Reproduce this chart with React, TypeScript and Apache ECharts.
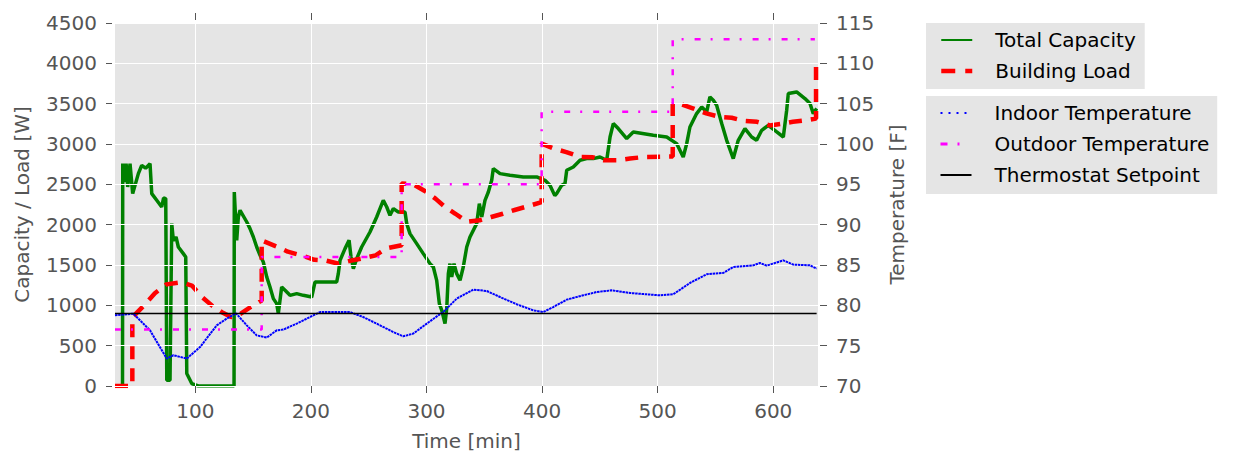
import React, { useEffect, useRef } from "react";
import * as echarts from "echarts";

// ---- Data (time in minutes) ----
const xTicks = [100, 200, 300, 400, 500, 600];

const totalCapacity: [number, number][] = [
  [30.5, 0], [37, 0], [37.2, 2757], [38.3, 2529], [40.1, 2757], [41.5, 2467], [43.5, 2757], [45.8, 2385],
  [50.7, 2633], [53.6, 2736], [57, 2700], [60.8, 2757], [62.3, 2385], [66.6, 2302], [70.9, 2219], [72.5, 2330],
  [74.4, 2323], [75.3, 70], [78.1, 70], [79.6, 2013], [81, 1806], [83.3, 1847], [85.3, 1723], [89.6, 1641],
  [91.7, 1599], [92.6, 154], [96.9, 30], [102.6, 0], [133.5, 0], [133.7, 2405], [135.8, 1806], [137.2, 2095],
  [138.7, 2178], [144.5, 2033], [147.3, 1951], [150.2, 1847], [153.1, 1723], [156, 1620], [158.8, 1537],
  [161.8, 1351], [164.6, 1227], [167.5, 1083], [170.4, 1021], [171.8, 897], [174.7, 1227], [177.6, 1186],
  [181.9, 1124], [187.7, 1145], [193.4, 1124], [200.7, 1103], [203.5, 1289], [210.7, 1289], [222.3, 1289],
  [223.7, 1393], [225.2, 1558], [229.5, 1703], [233, 1806], [234.7, 1599], [236.7, 1455], [239.6, 1579],
  [243.9, 1723], [251.1, 1909], [256.9, 2095], [262.6, 2302], [265.6, 2219], [268.4, 2116], [271.3, 2199],
  [275.6, 2157], [281.4, 2157], [282.9, 2013], [285.7, 1889], [291.5, 1765], [297.2, 1641], [303, 1517],
  [305.9, 1475], [308.8, 1310], [311.1, 1021], [313.2, 938], [316, 773], [317.5, 959], [318.9, 1393],
  [320.3, 1517], [321.8, 1351], [323.8, 1517], [326.1, 1393], [329, 1310], [331.8, 1475], [334.8, 1723],
  [337.6, 1847], [343.4, 2013], [345.7, 2261], [347.8, 2095], [350.6, 2302], [353.5, 2405], [356.4, 2550],
  [357.8, 2695], [363.6, 2633], [372.2, 2612], [383.7, 2591], [395.3, 2591], [402.5, 2550], [406.8, 2488],
  [411, 2360], [412.6, 2385], [416.9, 2488], [419.8, 2509], [421.3, 2674], [427, 2715], [432.8, 2798],
  [438.6, 2819], [444.3, 2819], [450.1, 2839], [455.9, 2798], [458.8, 3087], [461.6, 3253], [465.9, 3191],
  [473.2, 3067], [478.9, 3149], [496.2, 3108], [507.8, 3087], [516.4, 3005], [522.1, 2839], [525.1, 3005],
  [527.9, 3211], [533.7, 3377], [538.1, 3459], [542.4, 3397], [545.2, 3583], [548.1, 3542], [551, 3480],
  [555.4, 3253], [559.7, 3046], [565.4, 2819], [569.7, 3046], [575.5, 3191], [581.3, 3087], [585.6, 3046],
  [590, 3170], [595.7, 3232], [603, 3149], [608.7, 3087], [611.6, 3418], [613, 3625], [620.2, 3645],
  [627.4, 3563], [631.8, 3501], [634.6, 3377], [637.6, 3439],
];

const buildingLoad: [number, number][] = [
  [30.5, 0], [45.5, 0], [45.5, 850], [55, 990], [65, 1150], [75, 1260], [88, 1285], [97, 1245], [106, 1100],
  [115, 990], [123, 915], [131, 855], [139, 895], [148, 980], [157.4, 1060], [157.4, 1805], [171, 1725],
  [180, 1665], [193, 1615], [203, 1565], [213, 1555], [224, 1515], [235, 1555], [244, 1580], [256, 1620],
  [265, 1705], [278.5, 1745], [278.5, 2510], [288, 2505], [300, 2405], [308, 2320], [316, 2220], [325, 2135],
  [335, 2035], [346, 2055], [356, 2095], [366, 2135], [377, 2185], [388, 2230], [399.6, 2280], [399.6, 3005],
  [411, 2940], [421, 2900], [433, 2840], [444, 2835], [453, 2800], [466, 2800], [476, 2820], [488, 2839],
  [513, 2845], [513, 3500], [521, 3490], [531, 3440], [542, 3380], [554, 3335], [564, 3325], [575, 3285],
  [586, 3275], [597, 3230], [607, 3250], [617, 3275], [629, 3295], [637, 3315], [637, 3955],
];

const indoorTemp: [number, number][] = [
  [30.5, 78.76], [46.4, 78.97], [60.8, 76.9], [75.3, 73.4], [81, 73.81], [92.6, 73.4], [104.1, 74.83],
  [118.5, 77.52], [127.2, 78.36], [135.2, 79.01], [144.5, 77.52], [153.1, 76.28], [161.8, 76.0], [170.4, 76.9],
  [176.1, 76.99], [187.7, 77.73], [199.2, 78.55], [207.9, 79.17], [222.3, 79.17], [233.8, 79.17],
  [245.3, 78.55], [259.8, 77.52], [271.3, 76.69], [279.9, 76.16], [288.6, 76.5], [300.2, 77.73],
  [310.2, 78.76], [314.5, 79.17], [326.1, 80.83], [340.5, 81.95], [352.1, 81.78], [363.6, 81.03],
  [378, 80.13], [392.4, 79.38], [401, 79.17], [409.7, 79.79], [421.3, 80.71], [435.6, 81.24], [447.2, 81.65],
  [460.2, 81.86], [476, 81.53], [502, 81.24], [513.5, 81.37], [527.9, 82.77], [542.4, 83.85], [556.7, 84.01],
  [565.4, 84.75], [582.7, 84.96], [588.5, 85.25], [594.3, 84.92], [608.7, 85.58], [617.3, 85.05],
  [631.7, 84.96], [637.5, 84.55],
];

const outdoorTemp: [number, number][] = [
  [30.5, 77], [157.4, 77], [157.4, 86], [278.5, 86], [278.5, 95], [399.6, 95], [399.6, 104], [513, 104],
  [513, 113], [636, 113],
];

const setpoint: [number, number][] = [
  [30.5, 79], [637.5, 79],
];

const FONT = "DejaVu Sans";
const GRAY = "#555555";

export default function App() {
  const ref = useRef<HTMLDivElement>(null);
  useEffect(() => {
    if (!ref.current) return;
    const chart = echarts.init(ref.current, undefined, { renderer: "svg" });
    const tickStyle = { color: GRAY, width: 1 };
    const plain = (v: number) => String(v);
    const legendText = {
      color: "#000",
      fontSize: 20,
      lineHeight: 20,
      fontFamily: FONT,
      padding: [0, 0, 0, 18],
    };
    const legendBase = {
      orient: "vertical",
      left: 926,
      backgroundColor: "#E5E5E5",
      borderWidth: 0,
      itemWidth: 31,
      itemHeight: 14,
      itemGap: 11,
      selectedMode: false,
      itemStyle: { opacity: 0 },
      textStyle: legendText,
    };
    chart.setOption({
      animation: false,
      textStyle: { fontFamily: FONT },
      grid: {
        left: 115,
        top: 23,
        width: 703,
        height: 363,
        show: true,
        backgroundColor: "#E5E5E5",
        borderWidth: 0,
      },
      xAxis: [
        {
          type: "value",
          min: 30.5,
          max: 638.7,
          position: "bottom",
          offset: 3,
          z: 3,
          axisLine: { show: false },
          axisTick: { show: true, length: 7, lineStyle: tickStyle, customValues: xTicks },
          axisLabel: { customValues: xTicks, color: GRAY, fontSize: 20, margin: 12, fontFamily: FONT, formatter: plain },
          splitLine: { show: true, lineStyle: { color: "#ffffff", width: 1 } },
          name: "Time [min]",
          nameLocation: "middle",
          nameGap: 42,
          nameTextStyle: { color: GRAY, fontSize: 20, fontFamily: FONT },
        },
        {
          type: "value",
          min: 30.5,
          max: 638.7,
          position: "top",
          offset: 3,
          axisLine: { show: false },
          axisTick: { show: true, length: 7, lineStyle: tickStyle, customValues: xTicks },
          axisLabel: { show: false },
          splitLine: { show: false },
        },
      ],
      yAxis: [
        {
          type: "value",
          min: 0,
          max: 4500,
          interval: 500,
          position: "left",
          offset: 3,
          axisLine: { show: false },
          axisTick: { show: true, length: 6, lineStyle: tickStyle },
          axisLabel: { color: GRAY, fontSize: 20, margin: 15, fontFamily: FONT, formatter: plain },
          splitLine: { show: false },
          name: "Capacity / Load [W]",
          nameLocation: "middle",
          nameRotate: 90,
          nameGap: 80,
          nameTextStyle: { color: GRAY, fontSize: 20, fontFamily: FONT },
        },
        {
          type: "value",
          min: 70,
          max: 115,
          interval: 5,
          position: "right",
          offset: 2,
          z: 3,
          axisLine: { show: false },
          axisTick: { show: true, length: 7, lineStyle: tickStyle },
          axisLabel: { color: GRAY, fontSize: 20, margin: 16, fontFamily: FONT, formatter: plain },
          splitLine: { show: true, lineStyle: { color: "#ffffff", width: 1 } },
          name: "Temperature [F]",
          nameLocation: "middle",
          nameRotate: 90,
          nameGap: 67,
          nameTextStyle: { color: GRAY, fontSize: 20, fontFamily: FONT },
        },
      ],
      legend: [
        {
          ...legendBase,
          top: 23,
          padding: [7, 9, 8, 13],
          data: [
            { name: "Total Capacity", lineStyle: { width: 2 } },
            { name: "Building Load", lineStyle: { width: 4.5, type: [14, 10] } },
          ],
        },
        {
          ...legendBase,
          top: 96,
          padding: [7, 8, 9, 13],
          data: [
            { name: "Indoor Temperature", lineStyle: { type: [2, 6], width: 2 } },
            { name: "Outdoor Temperature", lineStyle: { type: [7, 10, 2, 12], width: 3 } },
            { name: "Thermostat Setpoint", lineStyle: { width: 2 } },
          ],
        },
      ],
      series: [
        {
          name: "Total Capacity",
          type: "line",
          xAxisIndex: 0,
          yAxisIndex: 0,
          data: totalCapacity,
          symbol: "none",
          showSymbol: false,
          silent: true,
          z: 1,
          itemStyle: { color: "#008000" },
          lineStyle: { color: "#008000", width: 3.5 },
        },
        {
          name: "Building Load",
          type: "line",
          xAxisIndex: 0,
          yAxisIndex: 0,
          data: buildingLoad,
          symbol: "none",
          showSymbol: false,
          silent: true,
          z: 2,
          itemStyle: { color: "#ff0000" },
          lineStyle: { color: "#ff0000", width: 4.5, type: [13, 9] },
        },
        {
          name: "Indoor Temperature",
          type: "line",
          xAxisIndex: 0,
          yAxisIndex: 1,
          data: indoorTemp,
          symbol: "none",
          showSymbol: false,
          silent: true,
          z: 4,
          itemStyle: { color: "#0000ff" },
          lineStyle: { color: "#0000ff", width: 2, type: [2.5, 0.7] },
        },
        {
          name: "Outdoor Temperature",
          type: "line",
          xAxisIndex: 0,
          yAxisIndex: 1,
          data: outdoorTemp,
          symbol: "none",
          showSymbol: false,
          silent: true,
          z: 5,
          itemStyle: { color: "#ff00ff" },
          lineStyle: { color: "#ff00ff", width: 2.5, type: [6, 10, 2, 11] },
        },
        {
          name: "Thermostat Setpoint",
          type: "line",
          xAxisIndex: 0,
          yAxisIndex: 1,
          data: setpoint,
          symbol: "none",
          showSymbol: false,
          silent: true,
          z: 6,
          itemStyle: { color: "#000000" },
          lineStyle: { color: "#000000", width: 1.5 },
        },
      ],
    });
    return () => chart.dispose();
  }, []);
  return (
    <div
      ref={ref}
      style={{ position: "absolute", left: 0, top: 0, width: 1235, height: 459 }}
    />
  );
}
